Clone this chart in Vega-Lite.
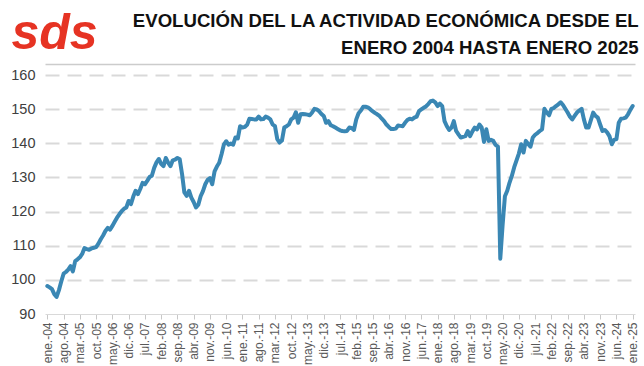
{
"$schema": "https://vega.github.io/schema/vega-lite/v6.json",
"width": 590, "height": 239,
"autosize": {"type": "none"},
"padding": {"left": 45, "top": 75, "right": 9, "bottom": 52},
"background": "white",
"title": {"text": ["EVOLUCIÓN DEL LA ACTIVIDAD ECONÓMICA DESDE EL", "ENERO 2004 HASTA ENERO 2025"], "anchor": "end", "align": "right", "font": "Liberation Sans", "fontSize": 18.6, "fontWeight": "bold", "color": "#111111", "lineHeight": 27, "offset": 0, "dy": 50},
"config": {"view": {"stroke": null}},
"data": {"values": [
{"mes":"ene.-04","valor":98.2},{"mes":"feb.-04","valor":97.8},{"mes":"mar.-04","valor":97.3},{"mes":"abr.-04","valor":95.8},{"mes":"may.-04","valor":95.0},{"mes":"jun.-04","valor":97.0},{"mes":"jul.-04","valor":99.5},{"mes":"ago.-04","valor":101.8},{"mes":"sep.-04","valor":102.3},{"mes":"oct.-04","valor":103.0},{"mes":"nov.-04","valor":104.0},{"mes":"dic.-04","valor":102.5},
{"mes":"ene.-05","valor":105.5},{"mes":"feb.-05","valor":106.0},{"mes":"mar.-05","valor":106.6},{"mes":"abr.-05","valor":107.6},{"mes":"may.-05","valor":109.3},{"mes":"jun.-05","valor":109.0},{"mes":"jul.-05","valor":108.8},{"mes":"ago.-05","valor":109.2},{"mes":"sep.-05","valor":109.4},{"mes":"oct.-05","valor":109.6},{"mes":"nov.-05","valor":110.6},{"mes":"dic.-05","valor":111.9},
{"mes":"ene.-06","valor":113.0},{"mes":"feb.-06","valor":114.3},{"mes":"mar.-06","valor":115.2},{"mes":"abr.-06","valor":114.7},{"mes":"may.-06","valor":115.8},{"mes":"jun.-06","valor":117.0},{"mes":"jul.-06","valor":118.2},{"mes":"ago.-06","valor":119.2},{"mes":"sep.-06","valor":120.1},{"mes":"oct.-06","valor":120.8},{"mes":"nov.-06","valor":121.2},{"mes":"dic.-06","valor":123.1},
{"mes":"ene.-07","valor":122.2},{"mes":"feb.-07","valor":124.4},{"mes":"mar.-07","valor":126.1},{"mes":"abr.-07","valor":125.1},{"mes":"may.-07","valor":126.6},{"mes":"jun.-07","valor":128.4},{"mes":"jul.-07","valor":128.0},{"mes":"ago.-07","valor":129.0},{"mes":"sep.-07","valor":130.1},{"mes":"oct.-07","valor":130.5},{"mes":"nov.-07","valor":132.8},{"mes":"dic.-07","valor":134.4},
{"mes":"ene.-08","valor":135.4},{"mes":"feb.-08","valor":134.0},{"mes":"mar.-08","valor":133.3},{"mes":"abr.-08","valor":135.7},{"mes":"may.-08","valor":134.3},{"mes":"jun.-08","valor":133.3},{"mes":"jul.-08","valor":135.0},{"mes":"ago.-08","valor":135.2},{"mes":"sep.-08","valor":135.7},{"mes":"oct.-08","valor":135.3},{"mes":"nov.-08","valor":131.0},{"mes":"dic.-08","valor":125.6},
{"mes":"ene.-09","valor":124.6},{"mes":"feb.-09","valor":126.1},{"mes":"mar.-09","valor":124.1},{"mes":"abr.-09","valor":122.8},{"mes":"may.-09","valor":121.2},{"mes":"jun.-09","valor":122.0},{"mes":"jul.-09","valor":124.5},{"mes":"ago.-09","valor":126.0},{"mes":"sep.-09","valor":128.0},{"mes":"oct.-09","valor":129.3},{"mes":"nov.-09","valor":129.8},{"mes":"dic.-09","valor":128.0},
{"mes":"ene.-10","valor":131.8},{"mes":"feb.-10","valor":133.2},{"mes":"mar.-10","valor":134.3},{"mes":"abr.-10","valor":136.8},{"mes":"may.-10","valor":139.6},{"mes":"jun.-10","valor":140.6},{"mes":"jul.-10","valor":139.6},{"mes":"ago.-10","valor":139.9},{"mes":"sep.-10","valor":139.6},{"mes":"oct.-10","valor":141.7},{"mes":"nov.-10","valor":141.4},{"mes":"dic.-10","valor":145.0},
{"mes":"ene.-11","valor":144.6},{"mes":"feb.-11","valor":144.8},{"mes":"mar.-11","valor":145.4},{"mes":"abr.-11","valor":147.2},{"mes":"may.-11","valor":147.1},{"mes":"jun.-11","valor":147.0},{"mes":"jul.-11","valor":147.0},{"mes":"ago.-11","valor":147.8},{"mes":"sep.-11","valor":147.0},{"mes":"oct.-11","valor":147.1},{"mes":"nov.-11","valor":147.8},{"mes":"dic.-11","valor":147.5},
{"mes":"ene.-12","valor":147.0},{"mes":"feb.-12","valor":145.5},{"mes":"mar.-12","valor":145.0},{"mes":"abr.-12","valor":141.2},{"mes":"may.-12","valor":140.2},{"mes":"jun.-12","valor":140.8},{"mes":"jul.-12","valor":144.6},{"mes":"ago.-12","valor":145.0},{"mes":"sep.-12","valor":145.5},{"mes":"oct.-12","valor":147.0},{"mes":"nov.-12","valor":147.5},{"mes":"dic.-12","valor":149.1},
{"mes":"ene.-13","valor":146.0},{"mes":"feb.-13","valor":148.5},{"mes":"mar.-13","valor":148.6},{"mes":"abr.-13","valor":148.5},{"mes":"may.-13","valor":148.4},{"mes":"jun.-13","valor":148.2},{"mes":"jul.-13","valor":149.0},{"mes":"ago.-13","valor":150.1},{"mes":"sep.-13","valor":149.9},{"mes":"oct.-13","valor":149.4},{"mes":"nov.-13","valor":148.6},{"mes":"dic.-13","valor":148.0},
{"mes":"ene.-14","valor":146.0},{"mes":"feb.-14","valor":146.5},{"mes":"mar.-14","valor":145.3},{"mes":"abr.-14","valor":145.0},{"mes":"may.-14","valor":144.6},{"mes":"jun.-14","valor":144.2},{"mes":"jul.-14","valor":143.8},{"mes":"ago.-14","valor":143.6},{"mes":"sep.-14","valor":143.5},{"mes":"oct.-14","valor":143.6},{"mes":"nov.-14","valor":144.6},{"mes":"dic.-14","valor":144.5},
{"mes":"ene.-15","valor":143.9},{"mes":"feb.-15","valor":147.0},{"mes":"mar.-15","valor":148.8},{"mes":"abr.-15","valor":149.6},{"mes":"may.-15","valor":150.7},{"mes":"jun.-15","valor":150.7},{"mes":"jul.-15","valor":150.5},{"mes":"ago.-15","valor":150.0},{"mes":"sep.-15","valor":149.4},{"mes":"oct.-15","valor":148.9},{"mes":"nov.-15","valor":148.5},{"mes":"dic.-15","valor":148.0},
{"mes":"ene.-16","valor":147.2},{"mes":"feb.-16","valor":146.5},{"mes":"mar.-16","valor":145.5},{"mes":"abr.-16","valor":144.8},{"mes":"may.-16","valor":144.2},{"mes":"jun.-16","valor":144.2},{"mes":"jul.-16","valor":144.3},{"mes":"ago.-16","valor":145.2},{"mes":"sep.-16","valor":145.1},{"mes":"oct.-16","valor":145.0},{"mes":"nov.-16","valor":146.0},{"mes":"dic.-16","valor":146.8},
{"mes":"ene.-17","valor":147.2},{"mes":"feb.-17","valor":147.0},{"mes":"mar.-17","valor":147.5},{"mes":"abr.-17","valor":147.8},{"mes":"may.-17","valor":149.4},{"mes":"jun.-17","valor":149.9},{"mes":"jul.-17","valor":150.4},{"mes":"ago.-17","valor":150.8},{"mes":"sep.-17","valor":151.5},{"mes":"oct.-17","valor":152.3},{"mes":"nov.-17","valor":152.5},{"mes":"dic.-17","valor":152.0},
{"mes":"ene.-18","valor":150.9},{"mes":"feb.-18","valor":151.6},{"mes":"mar.-18","valor":150.9},{"mes":"abr.-18","valor":146.5},{"mes":"may.-18","valor":145.0},{"mes":"jun.-18","valor":143.9},{"mes":"jul.-18","valor":144.6},{"mes":"ago.-18","valor":146.5},{"mes":"sep.-18","valor":143.6},{"mes":"oct.-18","valor":142.6},{"mes":"nov.-18","valor":141.7},{"mes":"dic.-18","valor":141.9},
{"mes":"ene.-19","valor":142.1},{"mes":"feb.-19","valor":143.6},{"mes":"mar.-19","valor":142.1},{"mes":"abr.-19","valor":143.5},{"mes":"may.-19","valor":144.6},{"mes":"jun.-19","valor":144.1},{"mes":"jul.-19","valor":145.5},{"mes":"ago.-19","valor":144.6},{"mes":"sep.-19","valor":140.4},{"mes":"oct.-19","valor":144.1},{"mes":"nov.-19","valor":140.7},{"mes":"dic.-19","valor":141.0},
{"mes":"ene.-20","valor":140.7},{"mes":"feb.-20","valor":139.5},{"mes":"mar.-20","valor":139.0},{"mes":"abr.-20","valor":106.2},{"mes":"may.-20","valor":116.0},{"mes":"jun.-20","valor":124.5},{"mes":"jul.-20","valor":126.1},{"mes":"ago.-20","valor":128.5},{"mes":"sep.-20","valor":130.5},{"mes":"oct.-20","valor":133.0},{"mes":"nov.-20","valor":135.0},{"mes":"dic.-20","valor":137.0},
{"mes":"ene.-21","valor":139.7},{"mes":"feb.-21","valor":137.3},{"mes":"mar.-21","valor":140.7},{"mes":"abr.-21","valor":139.8},{"mes":"may.-21","valor":139.0},{"mes":"jun.-21","valor":141.7},{"mes":"jul.-21","valor":142.5},{"mes":"ago.-21","valor":143.0},{"mes":"sep.-21","valor":143.6},{"mes":"oct.-21","valor":144.1},{"mes":"nov.-21","valor":150.1},{"mes":"dic.-21","valor":149.0},
{"mes":"ene.-22","valor":148.2},{"mes":"feb.-22","valor":150.1},{"mes":"mar.-22","valor":150.3},{"mes":"abr.-22","valor":150.9},{"mes":"may.-22","valor":151.4},{"mes":"jun.-22","valor":152.0},{"mes":"jul.-22","valor":151.2},{"mes":"ago.-22","valor":150.1},{"mes":"sep.-22","valor":149.0},{"mes":"oct.-22","valor":147.8},{"mes":"nov.-22","valor":147.0},{"mes":"dic.-22","valor":148.0},
{"mes":"ene.-23","valor":149.0},{"mes":"feb.-23","valor":149.6},{"mes":"mar.-23","valor":150.1},{"mes":"abr.-23","valor":147.0},{"mes":"may.-23","valor":144.6},{"mes":"jun.-23","valor":144.6},{"mes":"jul.-23","valor":146.8},{"mes":"ago.-23","valor":149.0},{"mes":"sep.-23","valor":148.0},{"mes":"oct.-23","valor":147.5},{"mes":"nov.-23","valor":145.5},{"mes":"dic.-23","valor":143.6},
{"mes":"ene.-24","valor":143.9},{"mes":"feb.-24","valor":143.2},{"mes":"mar.-24","valor":142.1},{"mes":"abr.-24","valor":139.7},{"mes":"may.-24","valor":141.0},{"mes":"jun.-24","valor":141.2},{"mes":"jul.-24","valor":146.0},{"mes":"ago.-24","valor":147.2},{"mes":"sep.-24","valor":147.3},{"mes":"oct.-24","valor":147.5},{"mes":"nov.-24","valor":148.5},{"mes":"dic.-24","valor":149.8},
{"mes":"ene.-25","valor":150.9}
]},
"layer": [
{
"mark": {"type": "line", "color": "#3a87b4", "strokeWidth": 4, "strokeJoin": "round", "strokeCap": "round"},
"encoding": {
"x": {"field": "mes", "type": "ordinal", "sort": null, "scale": {"type": "point", "padding": 1},
 "axis": {"values": ["ene.-04","ago.-04","mar.-05","oct.-05","may.-06","dic.-06","jul.-07","feb.-08","sep.-08","abr.-09","nov.-09","jun.-10","ene.-11","ago.-11","mar.-12","oct.-12","may.-13","dic.-13","jul.-14","feb.-15","sep.-15","abr.-16","nov.-16","jun.-17","ene.-18","ago.-18","mar.-19","oct.-19","may.-20","dic.-20","jul.-21","feb.-22","sep.-22","abr.-23","nov.-23","jun.-24","ene.-25"],
  "title": null, "labelAngle": -90, "labelFont": "Liberation Sans", "labelFontSize": 12, "labelColor": "#595959", "labelPadding": 3,
  "tickColor": "#c8c8c8", "tickSize": 5, "domainColor": "#d9d9d9", "domainWidth": 1, "grid": false}},
"y": {"field": "valor", "type": "quantitative", "scale": {"domain": [90, 160], "zero": false, "nice": false},
 "axis": {"values": [90, 100, 110, 120, 130, 140, 150, 160], "domain": false, "ticks": false,
  "grid": true, "gridColor": "#d9d9d9", "gridWidth": 2, "gridDash": [14, 8],
  "gridOpacity": {"condition": {"test": "datum.value === 90", "value": 0}, "value": 1},
  "labelFont": "Liberation Sans", "labelFontSize": 14.5, "labelColor": "#404040", "labelPadding": 10,
  "title": "sds", "titleAngle": 0, "titleX": -34, "titleY": -27, "titleAlign": "left", "titleBaseline": "alphabetic",
  "titleColor": "#e63323", "titleFont": "Liberation Sans", "titleFontSize": 50, "titleFontWeight": "bold", "titleFontStyle": "italic"}}
}
},
{
"mark": {"type": "line", "opacity": 0},
"encoding": {
"x": {"field": "mes", "type": "ordinal", "sort": null, "scale": {"type": "point", "padding": 1},
 "axis": {"orient": "top", "offset": 11, "labels": false, "ticks": false, "title": null, "grid": false, "domainColor": "#cccccc", "domainWidth": 1.5}}
}
}
],
"resolve": {"axis": {"x": "independent"}}
}
